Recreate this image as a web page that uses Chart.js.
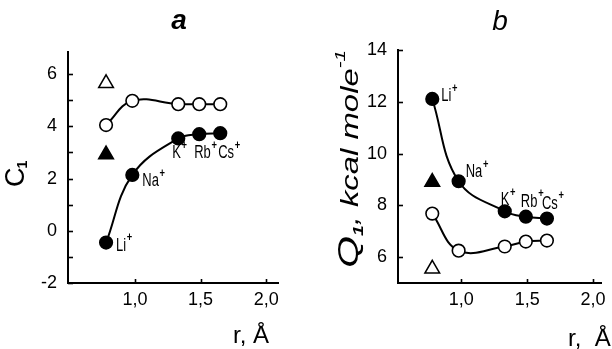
<!DOCTYPE html>
<html>
<head>
<meta charset="utf-8">
<script src="https://cdn.jsdelivr.net/npm/chart.js@4.4.1/dist/chart.umd.min.js"></script>
<style>
  html, body { margin: 0; padding: 0; background: #fff; }
  #wrap { position: relative; width: 612px; height: 349px; }
  .panel { position: absolute; top: 0; width: 306px; height: 349px; }
</style>
</head>
<body>
<div id="wrap">
  <div class="panel" style="left:0"><canvas id="chartA"></canvas></div>
  <div class="panel" style="left:306px"><canvas id="chartB"></canvas></div>
</div>
<script>
// ionic radii (A) and ion names
const radius = [0.78, 0.98, 1.33, 1.49, 1.65];
const ions = ['Li', 'Na', 'K', 'Rb', 'Cs'];

// panel a: C1
const cOpen = [4.05, 4.98, 4.85, 4.85, 4.85];
const cFilled = [-0.45, 2.14, 3.54, 3.70, 3.74];
const cTriOpen = [5.65];
const cTriFilled = [2.92];
const triRadius = [0.78];

// panel b: Q1, kcal/mole
const qOpen = [7.68, 6.25, 6.41, 6.60, 6.64];
const qFilled = [12.11, 8.93, 7.77, 7.56, 7.49];
const qTriOpen = [5.55];
const qTriFilled = [8.90];

const xTicks = [1.0, 1.5, 2.0];
const cTicks = [-2, -1, 0, 1, 2, 3, 4, 5, 6];
const qTicks = [6, 8, 10, 12, 14];

const FONT = '"Liberation Sans", Arial, sans-serif';

function pts(xs, ys) {
  return ys.map((y, i) => ({ x: xs[i], y: y }));
}

function curveSet(xs, ys, filled) {
  return {
    data: pts(xs, ys),
    showLine: true,
    tension: 0.4,
    borderColor: '#000',
    borderWidth: 2,
    pointRadius: 6.3,
    pointBorderWidth: 1.6,
    pointBackgroundColor: filled ? '#000' : '#fff',
    pointBorderColor: '#000'
  };
}

function triSet(ys, filled) {
  return {
    data: pts(triRadius, ys),
    showLine: false,
    pointStyle: 'triangle',
    pointRadius: 8.5,
    pointBorderWidth: 1.5,
    pointBackgroundColor: filled ? '#000' : '#fff',
    pointBorderColor: '#000'
  };
}

// inward tick marks on both axes
const innerTicks = {
  id: 'innerTicks',
  afterDraw(chart) {
    const ctx = chart.ctx;
    const area = chart.chartArea;
    const xs = chart.scales.x, ys = chart.scales.y;
    ctx.save();
    ctx.strokeStyle = '#000';
    ctx.lineWidth = 1.6;
    ys.ticks.forEach(t => {
      const py = Math.round(ys.getPixelForValue(t.value)) + 0.5;
      ctx.beginPath();
      ctx.moveTo(area.left, py);
      ctx.lineTo(area.left + 5, py);
      ctx.stroke();
    });
    xs.ticks.forEach(t => {
      const px = Math.round(xs.getPixelForValue(t.value)) + 0.5;
      ctx.beginPath();
      ctx.moveTo(px, area.bottom);
      ctx.lineTo(px, area.bottom - 4);
      ctx.stroke();
    });
    ctx.restore();
  }
};

// condensed ion label with superscript plus
function drawIon(ctx, name, x, y) {
  ctx.save();
  ctx.translate(x, y);
  ctx.scale(0.72, 1);
  ctx.font = '18px ' + FONT;
  ctx.textAlign = 'left';
  ctx.textBaseline = 'middle';
  ctx.fillText(name, 0, 0);
  const w = ctx.measureText(name).width;
  ctx.font = 'bold 13px ' + FONT;
  ctx.fillText('+', w + 1, -8);
  ctx.restore();
}

function makeLabels(filledIndex, offsets, extra) {
  return {
    id: 'labels',
    afterDraw(chart) {
      const ctx = chart.ctx;
      const meta = chart.getDatasetMeta(filledIndex);
      ctx.save();
      ctx.fillStyle = '#000';
      meta.data.forEach((el, i) => {
        drawIon(ctx, ions[i], el.x + offsets[i][0], el.y + offsets[i][1]);
      });
      extra(ctx, chart);
      ctx.restore();
    }
  };
}

function baseOptions(xMin, xMax, yMin, yMax, yTicks, yLabel, yWidth, pad) {
  return {
    responsive: true,
    maintainAspectRatio: false,
    animation: false,
    events: [],
    layout: { padding: pad },
    plugins: { legend: { display: false }, tooltip: { enabled: false } },
    scales: {
      x: {
        type: 'linear',
        min: xMin,
        max: xMax,
        afterBuildTicks: s => { s.ticks = xTicks.map(v => ({ value: v })); },
        afterFit: s => { s.height = 66; },
        grid: { display: false, drawTicks: false },
        border: { color: '#000', width: 2 },
        ticks: {
          autoSkip: false,
          maxRotation: 0,
          padding: 6,
          color: '#000',
          font: { family: FONT, size: 18 },
          callback: v => v.toFixed(1).replace('.', ',')
        }
      },
      y: {
        type: 'linear',
        min: yMin,
        max: yMax,
        afterBuildTicks: s => { s.ticks = yTicks.map(v => ({ value: v })); },
        afterFit: s => { s.width = yWidth; },
        grid: { display: false, drawTicks: false },
        border: { color: '#000', width: 2 },
        ticks: {
          autoSkip: false,
          padding: 11,
          color: '#000',
          font: { family: FONT, size: 18 },
          callback: yLabel
        }
      }
    }
  };
}

// panel a
new Chart(document.getElementById('chartA'), {
  type: 'scatter',
  data: {
    datasets: [
      curveSet(radius, cOpen, false),
      curveSet(radius, cFilled, true),
      triSet(cTriOpen, false),
      triSet(cTriFilled, true)
    ]
  },
  options: baseOptions(0.49, 2.09, -2, 6.85, cTicks,
    v => (v % 2 === 0 ? String(v) : ''), 68,
    { top: 52, right: 28, left: 0, bottom: 0 }),
  plugins: [innerTicks, makeLabels(1,
    [[10, 3], [10, 6], [-6, 15], [-5, 19], [-2, 20]],
    (ctx) => {
      ctx.textAlign = 'center';
      ctx.textBaseline = 'middle';
      ctx.font = 'italic bold 28px ' + FONT;
      ctx.fillText('a', 179, 21);
      // y title
      ctx.save();
      ctx.translate(24, 178);
      ctx.rotate(-Math.PI / 2);
      ctx.textAlign = 'left';
      ctx.textBaseline = 'alphabetic';
      ctx.font = '27px ' + FONT;
      ctx.fillText('C', -9, 0);
      const w = ctx.measureText('C').width;
      ctx.font = 'bold 14px ' + FONT;
      ctx.fillText('1', -10 + w, 3);
      ctx.restore();
      // x title
      ctx.textAlign = 'left';
      ctx.textBaseline = 'alphabetic';
      ctx.font = '24px ' + FONT;
      ctx.fillText('r, Å', 233, 343);
    })]
});

// panel b
new Chart(document.getElementById('chartB'), {
  type: 'scatter',
  data: {
    datasets: [
      curveSet(radius, qOpen, false),
      curveSet(radius, qFilled, true),
      triSet(qTriOpen, false),
      triSet(qTriFilled, true)
    ]
  },
  options: baseOptions(0.52, 2.065, 5, 14, qTicks,
    v => String(v), 92,
    { top: 50, right: 10, left: 0, bottom: 0 }),
  plugins: [innerTicks, makeLabels(1,
    [[9, -3], [7, -9], [-4, -11], [-5, -15], [-5, -15]],
    (ctx) => {
      ctx.textAlign = 'center';
      ctx.textBaseline = 'middle';
      ctx.font = 'italic 28px ' + FONT;
      ctx.fillText('b', 194, 22);
      // y title, stretched along the axis like the hand lettering
      const parts = [
        ['Q', 'italic 30px ' + FONT, 0],
        ['1', 'italic bold 14px ' + FONT, 5],
        [', kcal mole', 'italic 24px ' + FONT, 0],
        ['-1', 'italic 15px ' + FONT, -13]
      ];
      let total = 0;
      parts.forEach(p => { ctx.font = p[1]; total += ctx.measureText(p[0]).width; });
      ctx.save();
      ctx.translate(52, 268);
      ctx.rotate(-Math.PI / 2);
      ctx.scale(218 / total, 1);
      ctx.textAlign = 'left';
      ctx.textBaseline = 'alphabetic';
      let x = 0;
      parts.forEach(p => {
        ctx.font = p[1];
        ctx.fillText(p[0], x, p[2]);
        x += ctx.measureText(p[0]).width;
      });
      ctx.restore();
      // x title
      ctx.textAlign = 'left';
      ctx.textBaseline = 'alphabetic';
      ctx.font = '24px ' + FONT;
      ctx.fillText('r,  Å', 262, 346);
    })]
});
</script>
</body>
</html>
